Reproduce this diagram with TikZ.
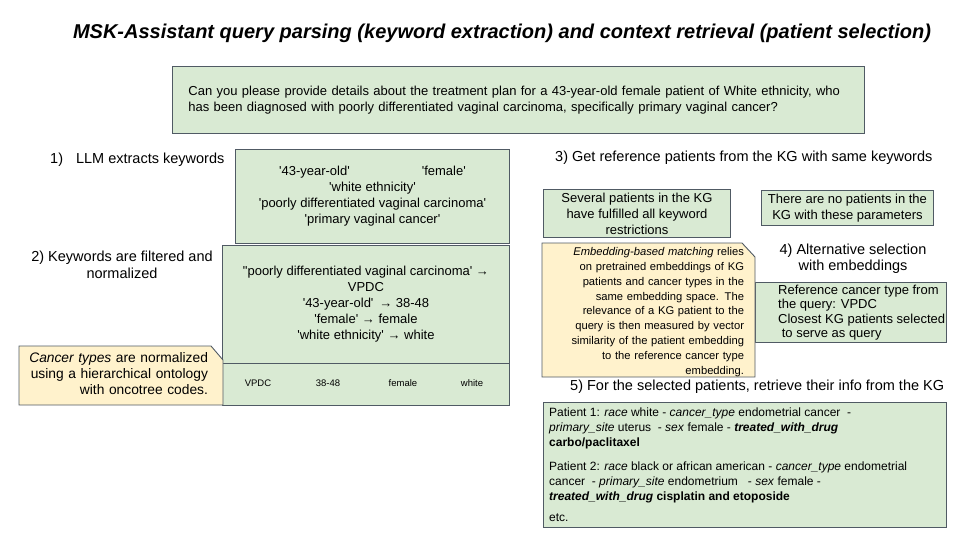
\documentclass[tikz,border=0pt]{standalone}
\usepackage{fontspec}
\setmainfont{Liberation Sans}

\definecolor{boxgreen}{HTML}{D9EAD3}
\definecolor{notecream}{HTML}{FFF2CC}
\definecolor{edgegray}{HTML}{505A64}

\newcommand*{\q}{\textquotesingle}
\newcommand*{\titlefont}{\fontsize{20}{24}\selectfont\bfseries\itshape}
\newcommand*{\boxfont}{\fontsize{13}{16}\selectfont}
\newcommand*{\stepfont}{\fontsize{14.5}{16.5}\selectfont}
\newcommand*{\ontofont}{\fontsize{13.8}{16}\selectfont}
\newcommand*{\notefont}{\fontsize{11.2}{14.8}\selectfont}
\newcommand*{\rowfont}{\fontsize{9.5}{11}\selectfont}
\newcommand*{\patfont}{\fontsize{12}{15}\selectfont}

\begin{document}
\begin{tikzpicture}
[
	x=1pt, y=-1pt,
	greenbox/.style={draw=edgegray,fill=boxgreen,line width=0.9pt,inner sep=0pt,anchor=north west},
	notebox/.style={draw=edgegray,fill=notecream,line width=0.9pt},
	steplabel/.style={font=\stepfont,align=center,inner sep=0pt}
]

	% frame
	\useasboundingbox (0,0) rectangle (960,540);
	\node[font=\titlefont,inner sep=0pt] (title) at (502,33) {MSK-Assistant query parsing (keyword extraction) and context retrieval (patient selection)};

	% query
	\node[greenbox,minimum width=692,minimum height=67,text width=660,align=left,font=\boxfont] (query) at (172,66) {Can you please provide details about the treatment plan for a 43-year-old female patient of White ethnicity, who\\has been diagnosed with poorly differentiated vaginal carcinoma, specifically primary vaginal cancer?};

	% left column
	\node[steplabel,anchor=west] (step1) at (50,160) {1)\hspace{13pt}LLM extracts keywords};
	\node[greenbox,minimum width=274,minimum height=94,align=center,font=\boxfont] (keywords) at (235,149) {\q43-year-old\q\hspace{72pt}\q female\q\\\q white ethnicity\q\\\q poorly differentiated vaginal carcinoma\q\\\q primary vaginal cancer\q};

	\node[steplabel] (step2) at (122,265) {2) Keywords are filtered and\\normalized};
	\node[greenbox,minimum width=287,minimum height=118,align=center,font=\boxfont] (filtered) at (222,245) {\textquotedbl poorly differentiated vaginal carcinoma\q{} →\\VPDC\\\q43-year-old\q{} \,→ 38-48\\\q female\q{} → female\\\q white ethnicity\q{} → white};
	\node[greenbox,minimum width=287,minimum height=42] (normrow) at (222,363) {};
	\node[font=\rowfont] (rowvpdc) at (258,383) {VPDC};
	\node[font=\rowfont] (rowage) at (328,383) {38-48};
	\node[font=\rowfont] (rowsex) at (403,383) {female};
	\node[font=\rowfont] (rowrace) at (472,383) {white};

	% note on cancer types
	\draw[notebox] (19,346) -- (211,346) -- (223,360) -- (223,405) -- (19,405) -- cycle;
	\node[font=\ontofont,text width=186,align=right,inner sep=0pt] (ontology) at (115,374) {\textit{Cancer types} are normalized\\using a hierarchical ontology\\with oncotree codes.};

	% right column
	\node[steplabel,anchor=west] (step3) at (555,158) {3) Get reference patients from the KG with same keywords};
	\node[greenbox,minimum width=187,minimum height=48,align=center,font=\boxfont] (several) at (543,189) {Several patients in the KG\\have fulfilled all keyword\\restrictions};
	\node[greenbox,minimum width=172,minimum height=35,align=center,font=\boxfont] (nopatients) at (761,190) {There are no patients in the\\KG with these parameters};

	\node[steplabel] (step4) at (853,258.5) {4) Alternative selection\\with embeddings};
	\node[greenbox,minimum width=191,minimum height=60] (refbox) at (755,282) {};
	\node[font=\boxfont,align=left,anchor=north west,inner sep=0pt] (reftext) at (778,284.5) {Reference cancer type from\\[-1.5pt]the query: VPDC\\[-1.5pt]Closest KG patients selected\\[-2pt]\ to serve as query};

	% note on embeddings
	\draw[notebox] (542,243) -- (742,243) -- (755,257) -- (755,377) -- (542,377) -- cycle;
	\node[font=\notefont,text width=198,align=right,inner sep=0pt] (embedding) at (645,312) {\textit{Embedding-based matching} relies\\on pretrained embeddings of KG\\patients and cancer types in the\\same embedding space. The\\relevance of a KG patient to the\\query is then measured by vector\\similarity of the patient embedding\\to the reference cancer type\\embedding.};

	\node[steplabel,anchor=west] (step5) at (570,387) {5) For the selected patients, retrieve their info from the KG};
	\node[greenbox,minimum width=403,minimum height=125] (patients) at (543,402) {};
	\node[font=\patfont,align=left,anchor=north west,inner sep=0pt] (pattext) at (549,408) {Patient 1: \textit{race} white - \textit{cancer\_type} endometrial cancer \ -\\\textit{primary\_site} uterus \ - \textit{sex} female - \textbf{\textit{treated\_with\_drug}}\\\textbf{carbo/paclitaxel}\\[9pt]Patient 2: \textit{race} black or african american - \textit{cancer\_type} endometrial\\cancer \ - \textit{primary\_site} endometrium \ \ - \textit{sex} female -\\\textbf{\textit{treated\_with\_drug} cisplatin and etoposide}\\[6pt]etc.};

\end{tikzpicture}
\end{document}
